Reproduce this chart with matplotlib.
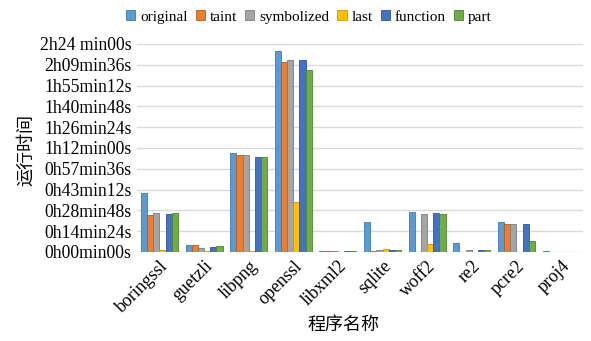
import matplotlib
matplotlib.use('Agg')
import matplotlib.pyplot as plt
import numpy as np

plt.rcParams['font.family'] = ['Liberation Serif', 'Noto Sans CJK SC']

# 程序与各方案的运行时间(秒)
programs = ['boringssl', 'guetzli', 'libpng', 'openssl', 'libxml2',
            'sqlite', 'woff2', 're2', 'pcre2', 'proj4']
original   = [2430, 280, 4110, 8350, 30, 1260, 1670, 360, 1250, 25]
taint      = [1520, 270, 4020, 7890, 25, 50, 20, 20, 1180, 20]
symbolized = [1620, 185, 4020, 7990, 25, 80, 1580, 90, 1180, 20]
last       = [70, 50, 50, 2080, 20, 130, 320, 20, 20, 20]
function   = [1580, 215, 3960, 7980, 25, 80, 1600, 80, 1160, 20]
part       = [1600, 240, 3960, 7540, 25, 80, 1580, 80, 460, 20]

series = [('original', original), ('taint', taint), ('symbolized', symbolized),
          ('last', last), ('function', function), ('part', part)]
colors = ['#5B9BD5', '#ED7D31', '#A5A5A5', '#FFC000', '#4472C4', '#70AD47']
edges = ['#3E78AE', '#B85A1E', '#7C7C7C', '#C99700', '#2E5594', '#4E8330']

yticks = np.arange(0, 8641, 864)
ylabels = ['0h00min00s', '0h14min24s', '0h28min48s', '0h43min12s', '0h57min36s',
           '1h12min00s', '1h26min24s', '1h40min48s', '1h55min12s', '2h09min36s',
           '2h24 min00s']

fig = plt.figure(figsize=(5.91, 3.41), dpi=100)
ax = fig.add_axes([0.232, 0.261, 0.755, 0.61])

x = np.arange(len(programs))
w = 0.138
for i, (name, vals) in enumerate(series):
    ax.bar(x + (i - 2.5) * w, vals, w, color=colors[i], edgecolor=edges[i],
           linewidth=0.6, label=name, zorder=3)

ax.set_xlim(-0.5, len(programs) - 0.5)
ax.set_ylim(0, 8640)
ax.set_yticks(yticks)
ax.set_yticklabels(ylabels, fontsize=12.7)
ax.set_xticks(x)
ax.set_xticklabels(programs, rotation=45, ha='right', rotation_mode='anchor',
                   fontsize=13)
ax.tick_params(length=0, pad=4)
ax.grid(axis='y', color='#D9D9D9', linewidth=1, zorder=0)
for s in ax.spines.values():
    s.set_visible(False)

ax.legend(loc='center', bbox_to_anchor=(0.385, 1.13), ncol=6, frameon=False,
          fontsize=11, handlelength=0.6, handleheight=0.6, handletextpad=0.3,
          columnspacing=0.55, borderaxespad=0)

fig.text(344 / 591, 1 - 325 / 341, '程序名称', ha='center', va='center', fontsize=13)
fig.text(27 / 591, 1 - 150 / 341, '运行时间', ha='center', va='center',
         rotation=90, fontsize=13)

fig.savefig('out.png', dpi=100)
